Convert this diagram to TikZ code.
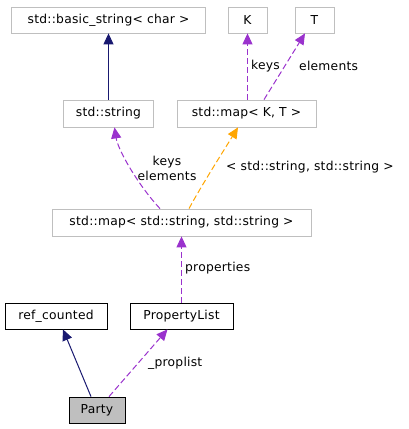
\documentclass[tikz,border=0pt]{standalone}
\usepackage{fontspec}
\setmainfont{DejaVu Sans}[LetterSpace=2]
\usetikzlibrary{arrows.meta}
\definecolor{navyc}{HTML}{191970}
\definecolor{orchid}{HTML}{9A32CD}
\definecolor{orangec}{HTML}{FFA500}
\definecolor{greyb}{HTML}{BFBFBF}
\tikzset{
  box/.style={draw=greyb, line width=0.8pt, minimum height=26pt, inner sep=0pt, font=\fontsize{12.3}{14}\selectfont},
  bbox/.style={box, draw=black},
  tip/.style={-{Triangle[length=11pt,width=10pt]}},
  inh/.style={tip, draw=navyc, line width=1pt},
  use/.style={tip, draw=orchid, dash pattern=on 6pt off 3pt, line width=1pt},
  tmpl/.style={tip, draw=orangec, dash pattern=on 6pt off 3pt, line width=1pt},
  lbl/.style={font=\fontsize{12.3}{15}\selectfont, inner sep=0pt, align=center}
}
\begin{document}
\begin{tikzpicture}[x=1pt,y=-1pt]
\useasboundingbox (0,0) rectangle (409,429);
\node[box, minimum width=194pt] (bs) at (108.5,20) {std::basic\_string< char >};
\node[box, minimum width=39pt] (K) at (247.5,20) {K};
\node[box, minimum width=39pt] (T) at (314.5,20) {T};
\node[box, minimum width=90pt, minimum height=27pt] (str) at (108.5,113.5) {std::string};
\node[box, minimum width=139pt, minimum height=27pt] (mkt) at (246.5,113.5) {std::map< K, T >};
\node[box, minimum width=259pt, minimum height=27pt] (mss) at (181.5,222.5) {std::map< std::string, std::string >};
\node[bbox, minimum width=102pt] (ref) at (56,316) {ref\_counted};
\node[bbox, minimum width=103pt] (pl) at (181.5,316) {PropertyList};
\node[bbox, minimum width=56pt, fill=greyb] (party) at (97,410) {Party};

\draw[inh] (str.north) -- (bs.south);
\draw[use] (K.south |- mkt.north) -- (K.south);
\draw[use] ([xshift=17.5pt]mkt.north) -- ([xshift=-9.5pt]T.south);
\draw[use] ([xshift=-21.5pt]mss.north) .. controls (138,185) and (118,150) .. ([xshift=6pt]str.south);
\draw[tmpl] ([xshift=7.5pt]mss.north) .. controls (200,188) and (224,150) .. ([xshift=-8.5pt]mkt.south);
\draw[use] (pl.north) -- (mss.south);
\draw[inh] ([xshift=-6pt]party.north) -- ([xshift=7pt]ref.south);
\draw[use] ([xshift=12pt]party.north) -- ([xshift=-14pt]pl.south);

\node[lbl, anchor=west] (lk) at (251,66) {keys};
\node[lbl, anchor=west] (le) at (299,66) {elements};
\node[lbl] (lke) at (167,168) {keys\\elements};
\node[lbl, anchor=west] (lt) at (226,167) {< std::string, std::string >};
\node[lbl, anchor=west] (lp) at (185,268) {properties};
\node[lbl, anchor=west] (lpl) at (148,363) {\_proplist};
\end{tikzpicture}
\end{document}
